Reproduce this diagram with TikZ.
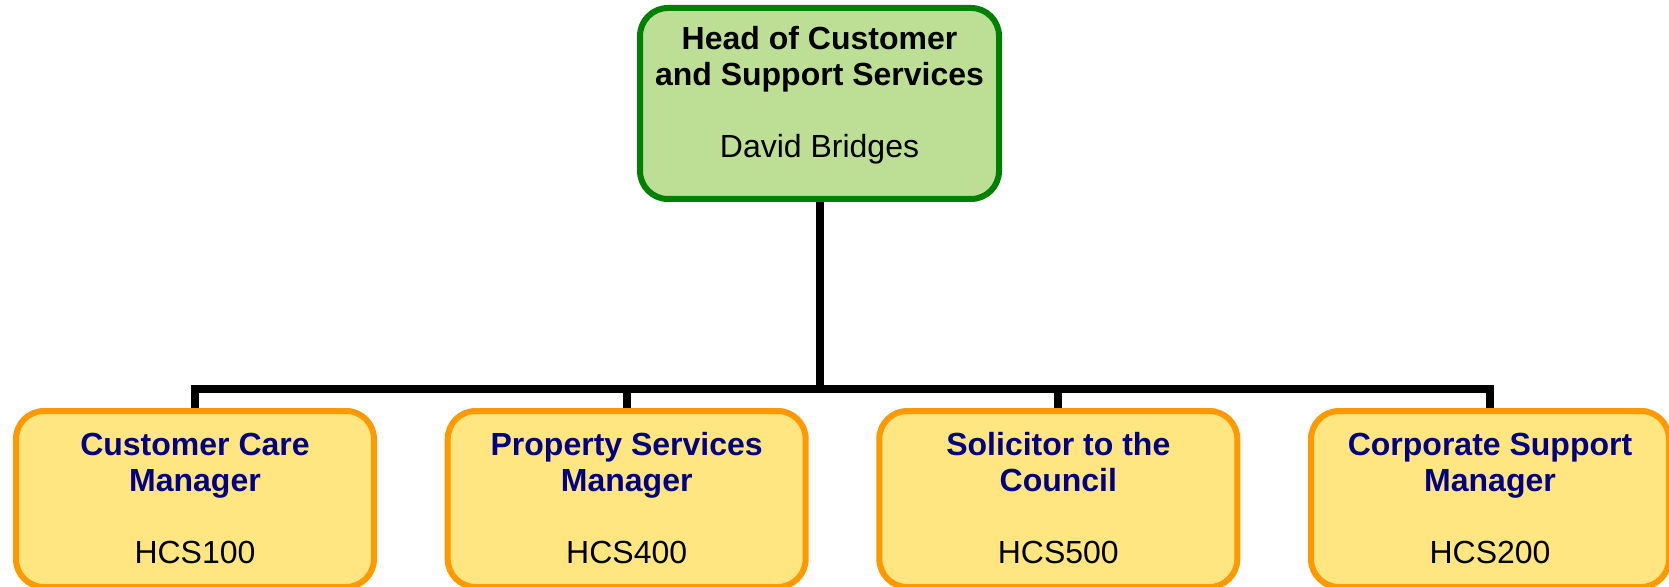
\documentclass[tikz,border=0pt]{standalone}
\usepackage{fontspec}
\setmainfont{Liberation Sans}
\definecolor{headfill}{HTML}{BCDF95}
\definecolor{headline}{HTML}{008000}
\definecolor{unitfill}{HTML}{FFE680}
\definecolor{unitline}{HTML}{FF9900}
\definecolor{titleblue}{HTML}{000080}
\newcommand{\topstrut}{\rule{0pt}{12pt}}
\newcommand{\unitstrut}{\rule{0pt}{22pt}}
\newcommand{\botstrut}{\rule[-12pt]{0pt}{12pt}}
\newcommand{\unittitle}[1]{\textcolor{titleblue}{\textbf{#1}}}

\begin{document}
\begin{tikzpicture}[x=0.5pt,y=-0.5pt,
    box/.style={rectangle,rounded corners=14pt,line width=3pt,inner sep=0pt,align=center,font=\fontsize{16}{18}\selectfont},
    head node/.style={box,draw=headline,fill=headfill,minimum width=179.5pt,minimum height=95.5pt},
    unit node/.style={box,draw=unitline,fill=unitfill,minimum width=179pt,minimum height=83.75pt},
    link/.style={line width=4pt}]
    \useasboundingbox (0,0) rectangle (1669,587);

    \coordinate (bus) at (0,389);

    \node[head node] (head) at (819.5,103.5) {\topstrut\textbf{Head of Customer}\\\textbf{and Support Services}\\[18pt]David Bridges\botstrut};

    \node[unit node] (care) at (195,499) {\unitstrut\unittitle{Customer Care}\\\unittitle{Manager}\\[18pt]HCS100\botstrut};
    \node[unit node] (property) at (626.7,499) {\unitstrut\unittitle{Property Services}\\\unittitle{Manager}\\[18pt]HCS400\botstrut};
    \node[unit node] (solicitor) at (1058.3,499) {\unitstrut\unittitle{Solicitor to the}\\\unittitle{Council}\\[18pt]HCS500\botstrut};
    \node[unit node] (corporate) at (1490,499) {\unitstrut\unittitle{Corporate Support}\\\unittitle{Manager}\\[18pt]HCS200\botstrut};

    \coordinate (hub) at (head.south |- bus);
    \draw[link] (head.south) -- (hub);
    \foreach \unit in {care,property,solicitor,corporate}
        \draw[link] (hub) -| (\unit.north);

\end{tikzpicture}
\end{document}
